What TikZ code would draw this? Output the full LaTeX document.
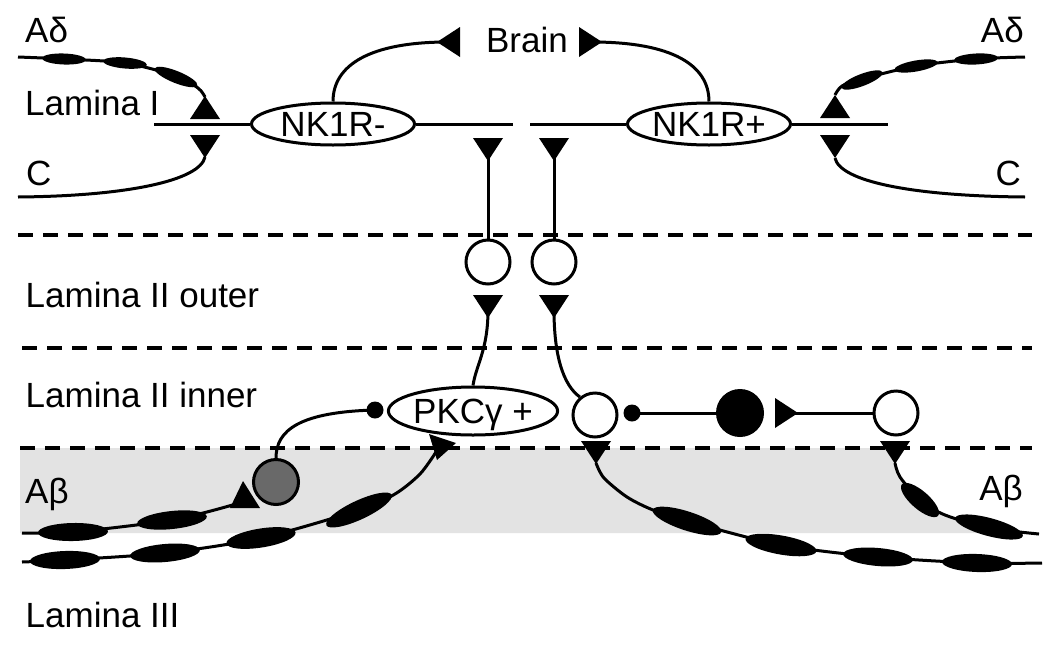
\documentclass[tikz,border=0pt]{standalone}
\usepackage{fontspec}
\setmainfont{Liberation Sans}
\usetikzlibrary{shapes.geometric}
\definecolor{bandgray}{RGB}{227,227,227}
\definecolor{cellgray}{RGB}{105,105,105}
\newcommand\varic[5]{\fill[rotate around={#3:(#1,#2)}] (#1,#2) ellipse [x radius=#4, y radius=#5];}
\begin{document}
\begin{tikzpicture}[x=1pt,y=1pt,
  lw/.style={line width=3pt},
  txt/.style={font=\fontsize{35}{42}\selectfont, inner sep=0pt},
  recep/.style={ellipse, draw, lw, fill=white, minimum width=163pt, minimum height=42pt, inner sep=0pt, text depth=0pt, font=\fontsize{35}{42}\selectfont},
  cell/.style={circle, draw, lw, fill=white, minimum size=44pt, inner sep=0pt},
  dotn/.style={circle, fill=black, minimum size=17pt, inner sep=0pt},
  fiber/.style={lw, line join=round},
  layer/.style={line width=3.2pt, dash pattern=on 15pt off 10pt},
  pics/tri/.style={code={\fill (0,0) -- (-15,23) -- (15,23) -- cycle;}}
]
\useasboundingbox (0,0) rectangle (1050,-646);

% shaded A-beta band
\fill[bandgray] (20,-448) -- (888,-448) -- (896,-465) -- (903,-482) -- (920,-500) -- (945,-515) -- (990,-529) -- (1030,-533) -- (20,-533) -- cycle;

% lamina borders
\draw[layer] (18,-235) -- (1032,-235);
\draw[layer] (22,-348) -- (1032,-348);
\draw[layer] (20,-448) -- (1032,-448);

% labels
\node[txt, anchor=base west] (lad) at (25,-42) {Aδ};
\node[txt, anchor=base west] (lI) at (25,-115) {Lamina I};
\node[txt, anchor=base west] (lc) at (26,-185) {C};
\node[txt, anchor=base] (brain) at (527,-52) {Brain};
\node[txt, anchor=base east] (rad) at (1024,-42) {Aδ};
\node[txt, anchor=base east] (rc) at (1021,-185) {C};
\node[txt, anchor=base west] (lIIo) at (25.5,-307) {Lamina II outer};
\node[txt, anchor=base west] (lIIi) at (25.5,-407) {Lamina II inner};
\node[txt, anchor=base west] (lab) at (25,-503) {Aβ};
\node[txt, anchor=base east] (rab) at (1023,-500) {Aβ};
\node[txt, anchor=base west] (lIII) at (25.5,-627) {Lamina III};

% free ends
\coordinate (l1a) at (154,-124);
\coordinate (l1b) at (513,-124);
\coordinate (l1c) at (530,-124);
\coordinate (l1d) at (888,-124);

% projection neurons
\node[recep] (nkm) at (333,-124) {NK1R-};
\node[recep] (nkp) at (709,-124) {NK1R+};
\draw[lw] (l1a) -- (nkm.west);
\draw[lw] (nkm.east) -- (l1b);
\draw[lw] (l1c) -- (nkp.west);
\draw[lw] (nkp.east) -- (l1d);

% to brain
\coordinate (bl) at (448,-42);
\coordinate (br) at (592,-42);
\draw[lw] (nkm.north) .. controls (333,-65) and (370,-42) .. (bl);
\draw[lw] (nkp.north) .. controls (709,-65) and (672,-42) .. (br);
\pic[rotate=-90] at (437,-42) {tri};
\pic[rotate=90] at (602,-42) {tri};

% A-delta and C fibres
\draw[fiber] plot[smooth, tension=0.5] coordinates {(18,-57) (64,-59) (125,-63) (176,-76) (198,-88) (205,-97)};
\varic{64}{-59}{-2}{22}{5.5}
\varic{125}{-63}{-5}{22}{5.5}
\varic{176}{-77}{-22}{23}{6}
\pic[rotate=180] at (205,-96) {tri};
\pic at (205,-158) {tri};
\draw[fiber] (205,-157) .. controls (200,-180) and (130,-196) .. (18,-197);

\draw[fiber] plot[smooth, tension=0.5] coordinates {(835,-95) (842,-86) (862,-79) (916,-66) (976,-59) (1025,-57)};
\varic{862}{-80}{21}{22}{6}
\varic{916}{-66}{10}{22}{5.5}
\varic{976}{-59}{3}{22}{5.5}
\pic[rotate=180] at (835,-95) {tri};
\pic at (835,-158) {tri};
\draw[fiber] (835,-158) .. controls (840,-181) and (910,-196) .. (1025,-197);

% lamina II outer interneurons
\node[cell] (c1) at (488,-262) {};
\node[cell] (c2) at (554,-262) {};
\coordinate (v1) at (488,-150);
\coordinate (v2) at (554,-150);
\draw[lw] (v1) -- (c1.north);
\draw[lw] (v2) -- (c2.north);
\pic at (488,-161) {tri};
\pic at (554,-161) {tri};
\pic at (488,-318) {tri};
\pic at (554,-318) {tri};

% lamina II inner
\node[recep, minimum height=48pt] (pk) at (473,-411) {PKCγ +};
\node[cell] (c3) at (595,-415) {};
\coordinate (s1) at (488,-310);
\coordinate (s2) at (554,-310);
\draw[lw] (s1) .. controls (488,-350) and (476,-365) .. (pk.north);
\draw[lw] (s2) .. controls (554,-355) and (563,-385) .. (c3.130);

\node[dotn] (d1) at (375,-410) {};
\node[cell, fill=cellgray, minimum size=45pt] (gc) at (276,-482) {};
\draw[lw] (d1.center) .. controls (300,-412) and (276,-430) .. (gc.north);

\node[dotn] (d2) at (632,-413) {};
\node[circle, fill=black, minimum size=48pt, inner sep=0pt] (bc) at (740,-413) {};
\node[cell] (c5) at (896,-413) {};
\draw[lw] (d2.center) -- (bc.west);
\coordinate (t5) at (790,-413);
\draw[lw] (t5) -- (c5.west);
\pic[rotate=90] at (798,-413) {tri};
\pic at (596,-464) {tri};
\pic at (895,-464) {tri};

% A-beta fibres
\draw[fiber] plot[smooth, tension=0.5] coordinates {(22,-533) (73,-532) (172,-520) (236,-504)};
\varic{73}{-532}{1}{35}{9}
\varic{172}{-520}{6}{35}{9}
\fill (243,-481) -- (230,-508) -- (260,-508) -- cycle;

\draw[fiber] plot[smooth, tension=0.5] coordinates {(22,-562) (65,-560) (165,-553) (261,-538) (359,-510) (395,-494) (420,-474) (436,-452)};
\varic{65}{-560}{2}{35}{9}
\varic{165}{-553}{5}{35}{9}
\varic{261}{-538}{9}{35}{9.5}
\varic{359}{-510}{25}{36}{9.5}
\fill (429,-434) -- (456,-443) -- (437,-460) -- cycle;

\draw[fiber] plot[smooth, tension=0.5] coordinates {(596,-463) (604,-478) (627,-497) (653,-510) (687,-521) (781,-545) (878,-557) (977,-563) (1042,-563)};
\varic{687}{-521}{-18}{36}{9.5}
\varic{781}{-545}{-10}{36}{9.5}
\varic{878}{-557}{-5}{35}{9}
\varic{977}{-563}{-2}{35}{9}

\draw[fiber] plot[smooth, tension=0.5] coordinates {(895,-463) (900,-477) (920,-500) (945,-515) (990,-528) (1039,-534)};
\varic{920}{-500}{-41}{24}{9}
\varic{989}{-527}{-15}{35}{9}
\end{tikzpicture}
\end{document}
